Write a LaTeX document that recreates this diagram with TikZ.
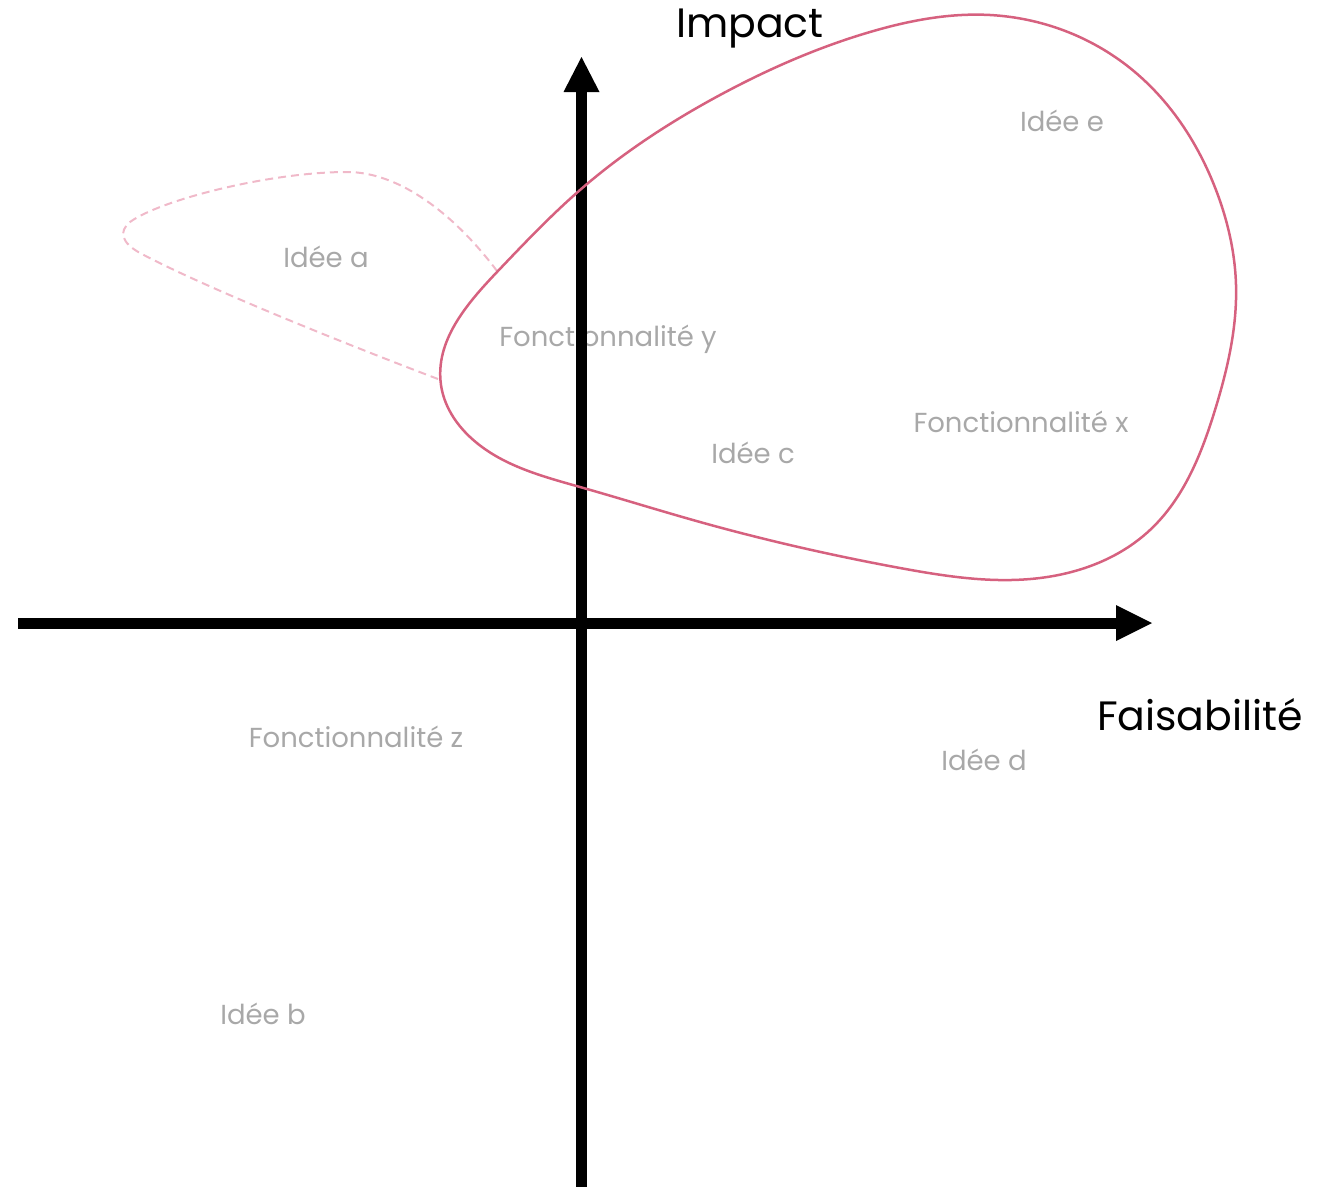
\documentclass[tikz,border=0pt]{standalone}
\usepackage{fontspec}
\setmainfont{Poppins}
\usetikzlibrary{hobby}
\definecolor{blobpink}{HTML}{D6617F}
\definecolor{lightpink}{HTML}{F0B9C9}
\definecolor{labelgray}{HTML}{A8A8A8}
\tikzset{
  idea/.style={text=labelgray, font=\fontsize{27.5}{32}\selectfont, inner sep=0pt, anchor=center},
  axislabel/.style={text=black, font=\fontsize{41}{46}\selectfont, inner sep=0pt, anchor=center},
  axisline/.style={line width=11pt},
  axishead/.style={fill=black},
}
\begin{document}
\begin{tikzpicture}[x=1pt,y=-1pt]
\useasboundingbox (0,0) rectangle (1330,1186);
% idea labels
\node[idea] (ie) at (1062,121) {Idée e};
\node[idea] (ia) at (326,257) {Idée a};
\node[idea] (fy) at (608,339) {Fonctionnalité y};
\node[idea] (fx) at (1021,422) {Fonctionnalité x};
\node[idea] (ic) at (753,453) {Idée c};
\node[idea] (fz) at (356,737) {Fonctionnalité z};
\node[idea] (id) at (984,760) {Idée d};
\node[idea] (ib) at (263,1014) {Idée b};
% axis labels
\node[axislabel] (impact) at (750,29) {Impact};
\node[axislabel] (faisab) at (1200,715) {Faisabilité};
% axes
\coordinate (xs) at (18,623);
\coordinate (xb) at (1118,623);
\coordinate (xe) at (1152,623);
\coordinate (ys) at (581.5,1190);
\coordinate (yb) at (581.5,90);
\coordinate (ye) at (581.5,57);
\draw[axisline] (xs) -- (xb);
\draw[axisline] (ys) -- (yb);
\fill[axishead] (563.5,92) -- (ye) -- (599.5,92) -- cycle;
\fill[axishead] (1116,605) -- (xe) -- (1116,641) -- cycle;
% dashed blob
\coordinate (da) at (497,271);
\coordinate (db) at (438,379);
\draw[lightpink, line width=2pt, dash pattern=on 8pt off 5pt]
  (da) .. controls (455,215) and (400,172) .. (347,172)
       .. controls (270,172) and (160,200) .. (130,222)
       .. controls (118,232) and (122,243) .. (140,253)
       .. controls (200,285) and (330,338) .. (db);
% solid blob
\draw[blobpink, line width=2.5pt]
  plot[closed hobby] coordinates {
    (990,15) (1130,68) (1216,190) (1236,285) (1215,410) (1150,530)
    (1040,578) (900,568) (700,522) (580,487) (470,437) (441,385)
    (497,272) (580,190) (720,95) (870,32)};
\end{tikzpicture}
\end{document}
